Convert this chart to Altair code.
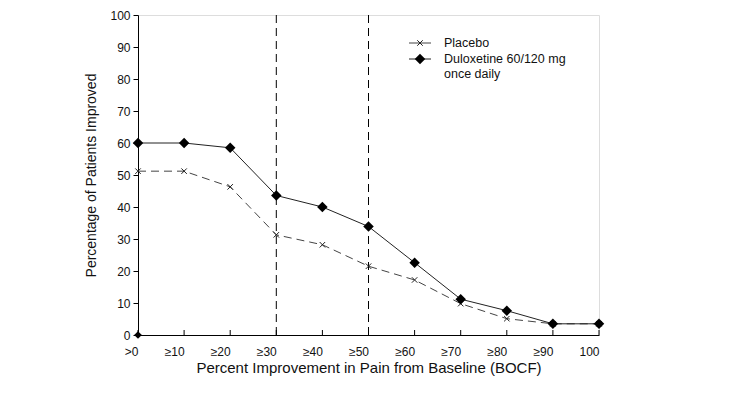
import altair as alt
import pandas as pd

categories = [">0", "≥10", "≥20", "≥30", "≥40", "≥50", "≥60", "≥70", "≥80", "≥90", "100"]
placebo = [51.2, 51.2, 46.3, 31.3, 28.2, 21.5, 17.2, 9.8, 5.1, 3.5, 3.5]
duloxetine = [60.0, 60.0, 58.5, 43.6, 40.0, 33.9, 22.6, 11.2, 7.6, 3.5, 3.5]
extra_cat = [">0"]
extra_val = [0.0]
cutoffs = ["≥30", "≥50"]
y_ticks = list(range(0, 101, 10))

W, H = 461, 320
FONT = "Liberation Sans"
XSHAPE = "M-1,-1L1,1M-1,1L1,-1"

df_p = pd.DataFrame({"cat": categories, "val": placebo})
df_d = pd.DataFrame({"cat": categories, "val": duloxetine})
df_e = pd.DataFrame({"cat": extra_cat, "val": extra_val})
df_c = pd.DataFrame({"cat": cutoffs})
df_t = pd.DataFrame({"cat": categories})

xs = alt.Scale(type="point", domain=categories, padding=0)
ys = alt.Scale(domain=[0, 100], nice=False)

x_axis = alt.Axis(title="Percent Improvement in Pain from Baseline (BOCF)", labelAngle=0,
                  ticks=False, labelPadding=16, titlePadding=3, labelFontSize=12,
                  titleFontSize=15, labelFont=FONT, titleFont=FONT, labelColor="#111",
                  titleColor="#111", titleFontWeight="normal", domainColor="black", grid=False)
y_axis = alt.Axis(title="Percentage of Patients Improved", values=y_ticks, tickSize=5,
                  labelPadding=3, titlePadding=11, labelFontSize=12, titleFontSize=14,
                  labelFont=FONT, titleFont=FONT, labelColor="#111", titleColor="#111",
                  titleFontWeight="normal", domainColor="black", tickColor="black", grid=False)

X = alt.X("cat:N", scale=xs, axis=x_axis, sort=categories)
Y = alt.Y("val:Q", scale=ys, axis=y_axis)

cut_rules = alt.Chart(df_c).mark_rule(color="black", strokeWidth=1, strokeDash=[8, 5]).encode(
    x=alt.X("cat:N", scale=xs, sort=categories), y=alt.value(0), y2=alt.value(H))

tick_rules = alt.Chart(df_t).mark_rule(color="black", strokeWidth=1).encode(
    x=alt.X("cat:N", scale=xs, sort=categories), y=alt.value(H), y2=alt.value(H - 5))

p_line = alt.Chart(df_p).mark_line(color="#444", strokeWidth=1, strokeDash=[8, 5]).encode(x=X, y=Y)
p_pts = alt.Chart(df_p).mark_point(shape=XSHAPE, color="#222", size=30,
                                   strokeWidth=1, filled=False, opacity=1).encode(x=X, y=Y)
d_line = alt.Chart(df_d).mark_line(color="#222", strokeWidth=1).encode(x=X, y=Y)
d_pts = alt.Chart(df_d).mark_point(shape="diamond", color="black", size=110, filled=True,
                                   opacity=1).encode(x=X, y=Y)
e_pts = alt.Chart(df_e).mark_point(shape="diamond", color="black", size=60, filled=True,
                                   opacity=1).encode(x=X, y=Y)

# legend
lx0, lx1, lm, ltx = 271, 293, 282, 306
leg = []
leg.append(alt.Chart(df_t.head(1)).mark_rule(color="#444", strokeWidth=1).encode(
    x=alt.value(lx0), x2=alt.value(lx1), y=alt.value(28)))
leg.append(alt.Chart(df_t.head(1)).mark_point(shape=XSHAPE, color="#222", size=30,
                                               strokeWidth=1, filled=False, opacity=1).encode(
    x=alt.value(lm), y=alt.value(28)))
leg.append(alt.Chart(df_t.head(1)).mark_rule(color="#222", strokeWidth=1).encode(
    x=alt.value(lx0), x2=alt.value(lx1), y=alt.value(44)))
leg.append(alt.Chart(df_t.head(1)).mark_point(shape="diamond", color="black", size=110, filled=True,
                                               opacity=1).encode(x=alt.value(lm), y=alt.value(44)))
for txt, yy in [("Placebo", 28), ("Duloxetine 60/120 mg", 44), ("once daily", 59)]:
    leg.append(alt.Chart(df_t.head(1)).mark_text(text=txt, align="left", baseline="middle",
                                                  font=FONT, fontSize=12.5, color="#111").encode(
        x=alt.value(ltx), y=alt.value(yy)))

chart = alt.layer(cut_rules, tick_rules, p_line, d_line, p_pts, d_pts, e_pts, *leg).properties(
    width=W, height=H, padding={"left": 76, "top": 1, "right": 5, "bottom": 5}
).configure_view(stroke="black", strokeWidth=1).configure(background="white")

chart.save("out.html", embed_options={"renderer": "svg", "actions": False})
